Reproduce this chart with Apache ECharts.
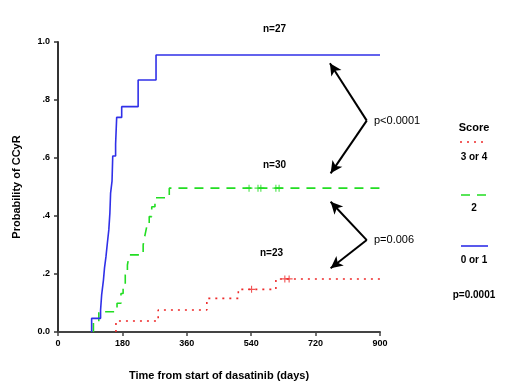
<!DOCTYPE html>
<html><head><meta charset="utf-8">
<script src="https://cdn.jsdelivr.net/npm/echarts@6/dist/echarts.min.js"></script>
<style>html,body{margin:0;padding:0;background:#fff}#c{width:520px;height:392px}</style>
</head><body><div id="c"></div>
<script>
// ---- data ----
const xTicks = [0, 180, 360, 540, 720, 900];
const yTickLabels = ['0.0', '.2', '.4', '.6', '.8', '1.0'];
// Score 0 or 1 (n=27)
const blueDays = [94, 119, 122, 127, 130, 134, 138, 142, 145, 147, 151, 153, 161, 164, 178, 224, 274, 900];
const blueProb = [0.047, 0.076, 0.128, 0.179, 0.221, 0.259, 0.307, 0.352, 0.41, 0.479, 0.52, 0.607, 0.648, 0.74, 0.777, 0.869, 0.955, 0.955];
// Score 2 (n=30)
const greenDays = [99, 114, 165, 176, 182, 188, 194, 199, 238, 243, 248, 255, 262, 271, 311, 900];
const greenProb = [0.036, 0.07, 0.099, 0.133, 0.165, 0.197, 0.231, 0.266, 0.30, 0.333, 0.363, 0.398, 0.432, 0.463, 0.496, 0.496];
const greenCensorDays = [534, 559, 567, 609, 618];
// Score 3 or 4 (n=23)
const redDays = [162, 280, 416, 504, 609, 900];
const redProb = [0.038, 0.076, 0.116, 0.147, 0.183, 0.183];
const redCensorDays = [541, 634, 646];
const legendTitle = 'Score';
const legendLabels = ['3 or 4', '2', '0 or 1'];
const nLabels = ['n=27', 'n=30', 'n=23'];
const pLabels = ['p<0.0001', 'p=0.006', 'p=0.0001'];

function steps(days, prob) {
  const out = [[days[0], 0]];
  days.forEach((d, i) => out.push([d, prob[i]]));
  return out;
}
function valueAt(days, prob, d) {
  let v = 0;
  days.forEach((dd, i) => { if (dd <= d) v = prob[i]; });
  return v;
}
const plus = 'path://M0,4.2h10v1.6h-10z M4.2,0h1.6v10h-1.6z';
const FONT = 'Liberation Sans';
const BLUE = '#3030e8', GREEN = '#22dd22', RED = '#ee2a2a';

const chart = echarts.init(document.getElementById('c'), null, {renderer: 'canvas'});
const txt = (x, y, s, opts) => Object.assign({
  type: 'text', x: x, y: y,
  style: Object.assign({text: s, fill: '#000', font: 'bold 10px "' + FONT + '"', textVerticalAlign: 'middle'}, opts || {})
});
chart.setOption({
  animation: false,
  grid: {left: 58, top: 42, right: 140, bottom: 60},
  xAxis: {
    type: 'value', min: 0, max: 900, interval: 180,
    name: 'Time from start of dasatinib (days)', nameLocation: 'middle', nameGap: 38,
    nameTextStyle: {fontFamily: FONT, fontWeight: 'bold', fontSize: 11, color: '#000'},
    axisLine: {lineStyle: {color: '#444', width: 2}},
    axisTick: {length: 4, lineStyle: {color: '#444', width: 1.5}},
    axisLabel: {fontFamily: FONT, fontWeight: 'bold', fontSize: 9, color: '#000', margin: 7,
      formatter: v => String(xTicks[xTicks.indexOf(v)] ?? v)},
    splitLine: {show: false}
  },
  yAxis: {
    type: 'value', min: 0, max: 1, interval: 0.2,
    name: 'Probability of CCyR', nameLocation: 'middle', nameGap: 36,
    nameTextStyle: {fontFamily: FONT, fontWeight: 'bold', fontSize: 11, color: '#000'},
    axisLine: {show: true, lineStyle: {color: '#333', width: 2}},
    axisTick: {show: true, length: 4, lineStyle: {color: '#333', width: 1.5}},
    axisLabel: {fontFamily: FONT, fontWeight: 'bold', fontSize: 9, color: '#000', margin: 8,
      formatter: v => yTickLabels[Math.round(v * 5)]},
    splitLine: {show: false}
  },
  series: [
    {type: 'line', step: 'end', data: steps(redDays, redProb), showSymbol: false, z: 3,
      lineStyle: {color: RED, width: 1.6, type: [2, 5]}},
    {type: 'line', step: 'end', data: steps(greenDays, greenProb), showSymbol: false, z: 3,
      lineStyle: {color: GREEN, width: 1.6, type: [9, 7]}},
    {type: 'line', step: 'end', data: steps(blueDays, blueProb), showSymbol: false, z: 4,
      lineStyle: {color: BLUE, width: 1.6}},
    {type: 'scatter', symbol: plus, symbolSize: 7, itemStyle: {color: GREEN}, z: 5,
      data: greenCensorDays.map(d => [d, valueAt(greenDays, greenProb, d)])},
    {type: 'scatter', symbol: plus, symbolSize: 7, itemStyle: {color: RED}, z: 5,
      data: redCensorDays.map(d => [d, valueAt(redDays, redProb, d)])},
    {type: 'line', data: [], z: 6,
      markLine: {
        silent: true, symbol: ['none', 'arrow'], symbolSize: [9, 12],
        label: {show: false},
        lineStyle: {color: '#000', width: 2, type: 'solid'},
        data: [
          [{coord: [863, 0.729]}, {coord: [760, 0.927]}],
          [{coord: [863, 0.729]}, {coord: [762, 0.547]}],
          [{coord: [863, 0.317]}, {coord: [762, 0.449]}],
          [{coord: [863, 0.317]}, {coord: [762, 0.22]}]
        ]
      }}
  ],
  graphic: [
    txt(263, 29, nLabels[0]),
    txt(263, 165, nLabels[1]),
    txt(260, 253, nLabels[2]),
    txt(374, 121, pLabels[0], {font: '11px "' + FONT + '"'}),
    txt(374, 240, pLabels[1], {font: '11px "' + FONT + '"'}),
    txt(474, 128, legendTitle, {textAlign: 'center', font: 'bold 11px "' + FONT + '"'}),
    {type: 'line', shape: {x1: 460, y1: 142, x2: 488, y2: 142}, style: {stroke: RED, lineWidth: 1.6, lineDash: [2, 5]}},
    txt(474, 157, legendLabels[0], {textAlign: 'center'}),
    {type: 'line', shape: {x1: 461, y1: 195, x2: 488, y2: 195}, style: {stroke: GREEN, lineWidth: 1.6, lineDash: [9, 7]}},
    txt(474, 208, legendLabels[1], {textAlign: 'center'}),
    {type: 'line', shape: {x1: 461, y1: 246, x2: 488, y2: 246}, style: {stroke: BLUE, lineWidth: 1.6}},
    txt(474, 260, legendLabels[2], {textAlign: 'center'}),
    txt(474, 295, pLabels[2], {textAlign: 'center'})
  ]
});
</script></body></html>
